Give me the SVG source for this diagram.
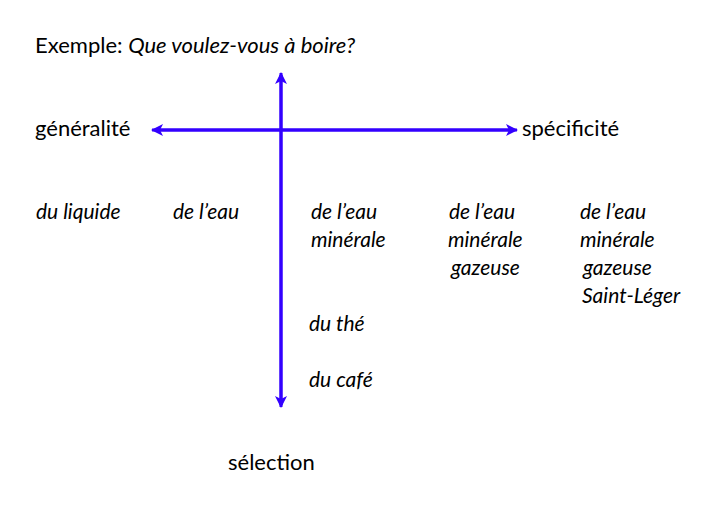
<svg xmlns="http://www.w3.org/2000/svg" width="725" height="508" viewBox="0 0 725 508">
<style>
text{font-family:"Lato","Open Sans",sans-serif;font-size:22px;fill:#000}
.i{font-style:italic;font-size:21px}
.ax{stroke:#3300ff;stroke-width:3;fill:none}
</style>
<defs>
<marker id="ah" viewBox="0 0 12 12" refX="11" refY="6" markerWidth="12" markerHeight="12" markerUnits="userSpaceOnUse" orient="auto">
<path d="M0,0 L12,6 L0,12 L3,6 Z" fill="#3300ff"/>
</marker>
</defs>
<rect width="725" height="508" fill="#fff"/>
<g id="connectors">
<line class="ax" x1="281" y1="405" x2="281" y2="73" marker-end="url(#ah)"/>
<line class="ax" x1="281" y1="75" x2="281" y2="407" marker-end="url(#ah)"/>
<line class="ax" x1="510" y1="130" x2="152" y2="130" marker-end="url(#ah)"/>
<line class="ax" x1="160" y1="130" x2="517" y2="130" marker-end="url(#ah)"/>
</g>
<g id="title"><text x="35" y="53">Exemple: <tspan class="i" style="font-size:22px">Que voulez-vous à boire?</tspan></text></g>
<g id="generalite"><text x="35" y="136">généralité</text></g>
<g id="specificite"><text x="522" y="136">spécificité</text></g>
<g id="selection"><text x="228" y="470">sélection</text></g>
<g id="liquide"><text class="i" x="36" y="219">du liquide</text></g>
<g id="eau"><text class="i" x="173" y="219">de l’eau</text></g>
<g id="minerale"><text class="i" x="311" y="219">de l’eau</text><text class="i" x="311" y="247">minérale</text></g>
<g id="gazeuse"><text class="i" x="449" y="219">de l’eau</text><text class="i" x="448" y="247">minérale</text><text class="i" x="451" y="275">gazeuse</text></g>
<g id="saintleger"><text class="i" x="580" y="219">de l’eau</text><text class="i" x="580" y="247">minérale</text><text class="i" x="583" y="275">gazeuse</text><text class="i" x="582" y="303">Saint-Léger</text></g>
<g id="the"><text class="i" x="309" y="331">du thé</text></g>
<g id="cafe"><text class="i" x="309" y="387">du café</text></g>
</svg>
